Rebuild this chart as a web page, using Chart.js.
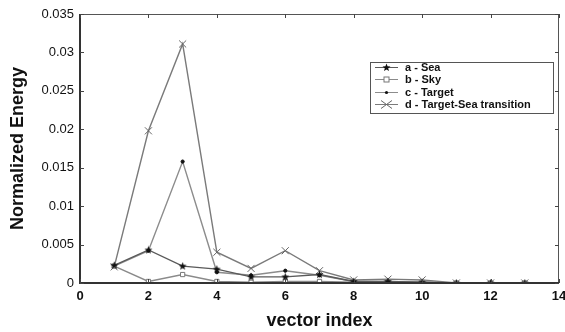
<!DOCTYPE html>
<html><head><meta charset="utf-8">
<script src="https://cdn.jsdelivr.net/npm/chart.js@4"></script>
<style>html,body{margin:0;padding:0;background:#fff;}#wrap{width:565px;height:332px;}</style>
</head><body><div id="wrap"><canvas id="c" width="565" height="332"></canvas></div>
<script>
const xIndex = [1,2,3,4,5,6,7,8,9,10,11,12,13];
const seaValues = [0.0023,0.0043,0.0022,0.0018,0.0008,0.0008,0.0011,0.0002,0.0002,0.0001,0,0,0];
const skyValues = [0.0022,0.0002,0.0011,0.0002,0.0001,0.0002,0.0002,0.0001,0.0001,0.0001,0,0,0];
const targetValues = [0.0022,0.0042,0.0158,0.0014,0.0010,0.0016,0.0010,0.0002,0.0002,0.0001,0,0,0];
const transitionValues = [0.0021,0.0198,0.0311,0.0040,0.0019,0.0042,0.0016,0.0004,0.0005,0.0004,0,0,0];
const seriesLabels = ['a - Sea','b - Sky','c - Target','d - Target-Sea transition'];
const xTicks = [0,2,4,6,8,10,12,14];
const yTicks = [0,0.005,0.01,0.015,0.02,0.025,0.03,0.035];

function starCanvas(){
  const c=document.createElement('canvas');c.width=9;c.height=9;
  const g=c.getContext('2d');g.fillStyle='#111';g.beginPath();
  for(let i=0;i<10;i++){const r=i%2?1.8:4.2;const a=-Math.PI/2+i*Math.PI/5;
    const x=4.5+r*Math.cos(a),y=4.7+r*Math.sin(a);i?g.lineTo(x,y):g.moveTo(x,y);}
  g.closePath();g.fill();return c;
}
const star=starCanvas();
const toPts=v=>v.map((y,i)=>({x:xIndex[i],y}));
const styles=[
  {color:'#5a5a5a',pointStyle:star,radius:4,bg:'#111',bc:'#111'},
  {color:'#8a8a8a',pointStyle:'rect',radius:3,bg:'#fff',bc:'#777'},
  {color:'#8c8c8c',pointStyle:'circle',radius:1.6,bg:'#111',bc:'#111'},
  {color:'#7a7a7a',pointStyle:'crossRot',radius:5,bg:'#666',bc:'#666'}
];
const allData=[seaValues,skyValues,targetValues,transitionValues];
const datasets=allData.map((v,i)=>({
  label:seriesLabels[i],data:toPts(v),borderColor:styles[i].color,borderWidth:1.4,
  pointStyle:styles[i].pointStyle,pointRadius:styles[i].radius,pointBackgroundColor:styles[i].bg,
  pointBorderColor:styles[i].bc,pointBorderWidth:1,showLine:true,tension:0,fill:false
}));

const framePlugin={id:'frame',afterDatasetsDraw(chart){
  const {ctx,chartArea:a,scales:{x,y}}=chart;ctx.save();
  ctx.strokeStyle='#555';ctx.lineWidth=1;
  ctx.beginPath();
  ctx.moveTo(a.left,a.top+0.5);ctx.lineTo(a.right,a.top+0.5);
  ctx.moveTo(a.right-0.5,a.top);ctx.lineTo(a.right-0.5,a.bottom);ctx.stroke();
  ctx.strokeStyle='#333';ctx.lineWidth=2;ctx.beginPath();
  ctx.moveTo(a.left,a.top);ctx.lineTo(a.left,a.bottom);ctx.lineTo(a.right,a.bottom);ctx.stroke();
  ctx.strokeStyle='#444';ctx.lineWidth=1;ctx.beginPath();
  xTicks.forEach(t=>{const px=Math.round(x.getPixelForValue(t))+0.5;
    ctx.moveTo(px,a.top);ctx.lineTo(px,a.top+4);ctx.moveTo(px,a.bottom);ctx.lineTo(px,a.bottom-4);});
  yTicks.forEach(t=>{const py=Math.round(y.getPixelForValue(t))+0.5;
    ctx.moveTo(a.left,py);ctx.lineTo(a.left+4,py);ctx.moveTo(a.right,py);ctx.lineTo(a.right-4,py);});
  ctx.stroke();
  // legend
  const bx=370,by=62,bw=183,bh=51;
  ctx.fillStyle='#fff';ctx.fillRect(bx,by,bw,bh);
  ctx.strokeStyle='#555';ctx.lineWidth=1;ctx.strokeRect(bx+0.5,by+0.5,bw,bh);
  ctx.font='bold 11px "Liberation Sans", Arial, sans-serif';ctx.textBaseline='middle';
  chart.data.datasets.forEach((ds,i)=>{
    const ry=by+5+i*12.3;const cy=Math.round(ry)+0.5;
    ctx.strokeStyle=ds.borderColor;ctx.lineWidth=1;ctx.beginPath();ctx.moveTo(375,cy);ctx.lineTo(398,cy);ctx.stroke();
    ctx.save();ctx.fillStyle=ds.pointBackgroundColor;ctx.strokeStyle=ds.pointBorderColor;
    if(ds.pointStyle==='rect'){ctx.fillStyle='#fff';ctx.fillRect(384,cy-2.5,5,5);ctx.strokeRect(384,cy-2.5,5,5);}
    else if(ds.pointStyle==='circle'){ctx.beginPath();ctx.arc(386.5,cy,1.6,0,7);ctx.fill();}
    else if(ds.pointStyle==='crossRot'){ctx.beginPath();ctx.moveTo(381,cy-4);ctx.lineTo(392,cy+4);ctx.moveTo(381,cy+4);ctx.lineTo(392,cy-4);ctx.stroke();}
    else {ctx.drawImage(ds.pointStyle,382,cy-4.5);}
    ctx.restore();
    ctx.fillStyle='#111';ctx.fillText(ds.label,405,cy);
  });
  ctx.restore();
}};

new Chart(document.getElementById('c'),{
  type:'scatter',
  data:{datasets},
  options:{
    responsive:false,animation:false,
    layout:{padding:{top:14,right:4,left:0,bottom:0}},
    plugins:{legend:{display:false},tooltip:{enabled:false}},
    scales:{
      x:{type:'linear',min:0,max:14,
        afterBuildTicks:s=>{s.ticks=xTicks.map(v=>({value:v}));},
        afterFit:s=>{s.height=49;s.paddingRight=0;s.paddingLeft=0;},
        grid:{display:false,drawTicks:false},border:{display:false},
        ticks:{color:'#111',padding:6,maxRotation:0,font:{family:'"Liberation Sans", Arial, sans-serif',size:13,weight:'bold'}},
        title:{display:true,text:'vector index',color:'#111',padding:{top:1,bottom:0},font:{family:'"Liberation Sans", Arial, sans-serif',size:18,weight:'bold'}}
      },
      y:{min:0,max:0.035,
        afterBuildTicks:s=>{s.ticks=yTicks.map(v=>({value:v}));},
        afterFit:s=>{s.width=80;s.paddingTop=0;s.paddingBottom=0;},
        grid:{display:false,drawTicks:false},border:{display:false},
        ticks:{color:'#111',padding:6,callback:v=>String(+v.toFixed(3)),font:{family:'"Liberation Sans", Arial, sans-serif',size:13}},
        title:{display:true,text:'Normalized Energy',color:'#111',padding:{top:7,bottom:0},font:{family:'"Liberation Sans", Arial, sans-serif',size:18,weight:'bold'}}
      }
    }
  },
  plugins:[framePlugin]
});
</script></body></html>
